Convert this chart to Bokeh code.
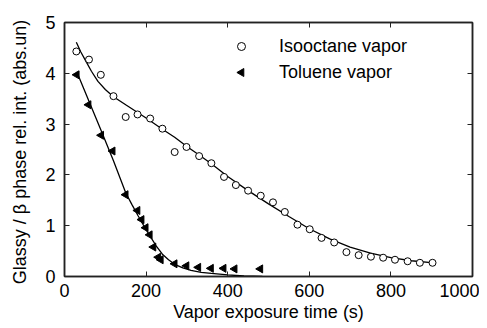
import numpy as np
from bokeh.plotting import figure
from bokeh.models import Range1d, LinearAxis, Legend, LegendItem
from bokeh.embed import file_html
from bokeh.resources import INLINE

# Isooctane vapor (open circles)
iso_t = [29, 60, 89, 120, 150, 179, 210, 240, 270, 299, 330, 360, 391, 420, 450,
         481, 511, 540, 571, 601, 630, 661, 691, 721, 751, 781, 810, 841, 871, 902]
iso_i = [4.43, 4.27, 3.97, 3.55, 3.14, 3.19, 3.11, 2.91, 2.45, 2.55, 2.37, 2.23, 1.96, 1.80, 1.69,
         1.59, 1.46, 1.27, 1.02, 0.93, 0.76, 0.67, 0.48, 0.42, 0.39, 0.37, 0.33, 0.30, 0.27, 0.27]

# Toluene vapor (filled triangles)
tol_t = [30, 59, 90, 118, 150, 179, 189, 199, 209, 218, 230, 236, 270, 299, 328, 359, 390, 417, 480]
tol_i = [3.97, 3.38, 2.78, 2.47, 1.61, 1.30, 1.12, 0.96, 0.82, 0.58, 0.38, 0.33, 0.25, 0.21, 0.18,
         0.16, 0.16, 0.15, 0.15]

# Fit curves
iso_fit_t = [29, 40, 53, 66, 82, 100, 120, 150, 200, 240, 270, 300, 330, 360, 400, 450,
             500, 550, 600, 650, 700, 750, 800, 850, 905]
iso_fit_i = [4.61, 4.42, 4.23, 4.04, 3.84, 3.68, 3.54, 3.38, 3.12, 2.90, 2.74, 2.56, 2.39, 2.22,
             1.97, 1.69, 1.43, 1.18, 0.94, 0.74, 0.58, 0.46, 0.37, 0.31, 0.27]

tol_fit_t = [30, 60, 90, 120, 150, 165, 180, 195, 210, 225, 240, 255, 270, 290, 310, 335,
             360, 400, 440, 485]
tol_fit_i = [4.03, 3.45, 2.87, 2.28, 1.65, 1.42, 1.20, 0.99, 0.79, 0.60, 0.44, 0.33, 0.24, 0.17,
             0.12, 0.08, 0.06, 0.03, 0.01, 0.0]

series_labels = ["Isooctane vapor", "Toluene vapor"]
x_ticks = [0, 200, 400, 600, 800, 1000]
y_ticks = [0, 1, 2, 3, 4, 5]

FONT = "Liberation Sans"
FW, FH = 408, 254
X0, X1, Y0, Y1 = 0, 1000, 0, 5

p = figure(frame_width=FW, frame_height=FH, output_backend="svg", toolbar_location=None,
           x_range=Range1d(X0, X1), y_range=Range1d(Y0, Y1),
           min_border_left=64, min_border_right=7, min_border_top=22, min_border_bottom=44)
p.grid.visible = False
p.outline_line_color = "#222222"
p.outline_line_width = 1.5
p.background_fill_color = "white"
p.border_fill_color = "white"

def style_axis(ax):
    ax.axis_line_color = "#222222"
    ax.axis_line_width = 1.5
    ax.major_tick_in = 5
    ax.major_tick_out = 0
    ax.minor_tick_in = 3
    ax.minor_tick_out = 0
    ax.major_tick_line_color = "#222222"
    ax.minor_tick_line_color = "#222222"
    ax.major_tick_line_width = 1
    ax.minor_tick_line_width = 1
    ax.major_label_text_font = FONT
    ax.major_label_text_color = "black"
    ax.major_label_text_font_size = "18px"
    ax.axis_label_text_font = FONT
    ax.axis_label_text_font_size = "18px"
    ax.axis_label_text_font_style = "normal"
    ax.axis_label_text_color = "black"

xa = p.xaxis[0]
ya = p.yaxis[0]
style_axis(xa)
style_axis(ya)
xa.ticker = x_ticks
ya.ticker = y_ticks
xa.ticker.num_minor_ticks = 2
ya.ticker.num_minor_ticks = 2
xa.major_label_standoff = 7
ya.major_label_standoff = 9
xa.axis_label = "Vapor exposure time (s)"
ya.axis_label = "Glassy / \u03b2  phase rel. int. (abs.un)"
xa.axis_label_standoff = 2
ya.axis_label_standoff = 12

top = LinearAxis(ticker=x_ticks)
top.ticker.num_minor_ticks = 2
style_axis(top)
top.major_label_overrides = {t: "" for t in x_ticks}
top.major_label_standoff = 0
right = LinearAxis(ticker=y_ticks)
right.ticker.num_minor_ticks = 2
style_axis(right)
right.major_label_overrides = {t: "" for t in y_ticks}
right.major_label_standoff = 0
p.add_layout(top, "above")
p.add_layout(right, "right")

p.line(iso_fit_t, iso_fit_i, line_color="black", line_width=1.3)
p.line(tol_fit_t, tol_fit_i, line_color="black", line_width=1.3)

r_iso = p.scatter(iso_t, iso_i, marker="circle", size=7, fill_color="white",
                  line_color="black", line_width=1)
r_tol = p.scatter(tol_t, tol_i, marker="triangle", size=8, angle=np.pi / 2,
                  fill_color="black", line_color="black", line_width=1)

# legend (Bokeh legends ignore marker angle, so the triangle key is drawn separately)
r_tol_key_dummy = p.scatter([], [], marker="triangle", size=8, fill_alpha=0, line_alpha=0)

LEG_X, LEG_Y = 167, 192          # legend bottom-left, px from frame bottom-left
GLYPH_W, GLYPH_H, SPACING = 20, 24, 2
legend = Legend(items=[LegendItem(label=series_labels[0], renderers=[r_iso]),
                       LegendItem(label=series_labels[1], renderers=[r_tol_key_dummy])],
                location=(LEG_X, LEG_Y), orientation="vertical")
legend.border_line_alpha = 0
legend.background_fill_alpha = 0
legend.label_text_font = FONT
legend.label_text_font_size = "18px"
legend.label_text_color = "black"
legend.glyph_width = GLYPH_W
legend.glyph_height = GLYPH_H
legend.spacing = SPACING
legend.padding = 0
legend.margin = 0
legend.label_standoff = 28
p.add_layout(legend, "center")

key_px_x = LEG_X + GLYPH_W / 2
key_px_y = LEG_Y + GLYPH_H / 2           # second (bottom) row centre
key_x = X0 + key_px_x / FW * (X1 - X0)
key_y = Y0 + key_px_y / FH * (Y1 - Y0)
p.scatter([key_x], [key_y], marker="triangle", size=8, angle=np.pi / 2,
          fill_color="black", line_color="black", line_width=1)

open("out.html", "w").write(file_html(p, INLINE))
